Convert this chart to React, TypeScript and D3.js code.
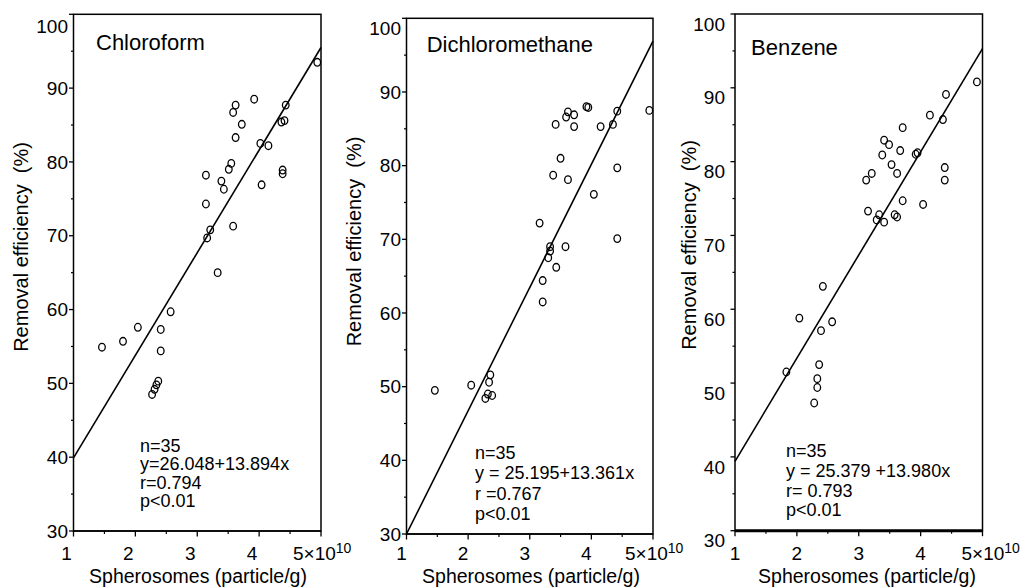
import * as d3 from "d3";

const FONT = '"Liberation Sans", Arial, Helvetica, sans-serif';

// values (x in 10^10 particle/g, y in %)
const panelTitles = ["Chloroform", "Dichloromethane", "Benzene"];

const chloroformX = [4.94, 3.92, 3.62, 3.58, 3.72, 3.62, 4.43, 4.36, 4.41, 4.02, 4.15, 3.55, 3.51, 3.14, 3.39, 3.43, 4.04, 4.38, 4.38, 3.14, 3.21, 3.16, 3.58, 3.33, 1.46, 1.8, 2.04, 2.57, 2.41, 2.41, 2.37, 2.34, 2.31, 2.27];
const chloroformY = [93.5, 88.5, 87.7, 86.7, 85.1, 83.3, 87.7, 85.4, 85.6, 82.5, 82.2, 79.8, 79.0, 78.2, 77.4, 76.3, 76.9, 78.9, 78.4, 74.3, 70.8, 69.7, 71.3, 65.0, 54.9, 55.7, 57.6, 59.7, 57.3, 54.4, 50.3, 49.8, 49.2, 48.5];

const dichloroX = [4.94, 3.92, 3.95, 3.62, 3.59, 3.72, 3.42, 3.72, 4.15, 4.35, 4.42, 3.5, 3.38, 3.62, 4.42, 4.04, 3.16, 4.42, 3.33, 3.33, 3.58, 3.3, 3.43, 3.21, 3.21, 1.46, 2.05, 2.36, 2.34, 2.28, 2.39, 2.32];
const dichloroY = [87.5, 88.0, 87.9, 87.3, 86.6, 86.9, 85.6, 85.3, 85.3, 85.6, 87.4, 81.0, 78.7, 78.1, 79.7, 76.1, 72.2, 70.1, 69.0, 68.4, 69.0, 67.5, 66.2, 64.4, 61.5, 49.5, 50.2, 51.6, 50.6, 48.4, 48.8, 49.0];

const benzeneX = [4.91, 4.41, 4.15, 4.36, 3.71, 3.41, 3.49, 3.67, 3.38, 3.92, 3.95, 3.53, 3.62, 3.21, 3.12, 4.39, 4.39, 3.71, 4.04, 3.15, 3.33, 3.29, 3.41, 3.58, 3.62, 2.42, 2.04, 2.57, 2.39, 1.83, 2.36, 2.33, 2.33, 2.28];
const benzeneY = [90.8, 89.1, 86.3, 85.7, 84.6, 82.9, 82.3, 81.5, 80.9, 81.0, 81.2, 79.6, 78.4, 78.4, 77.5, 79.2, 77.5, 74.7, 74.2, 73.3, 72.8, 72.1, 71.8, 72.8, 72.5, 63.1, 58.8, 58.3, 57.1, 51.5, 52.5, 50.6, 49.4, 47.3];

// fitted line as drawn: y at x=1 and at x=5
const fitLines = [
  [39.9, 95.5],
  [30.0, 96.9],
  [39.4, 95.3],
];

const statLines = [
  ["n=35", "y=26.048+13.894x", "r=0.794", "p<0.01"],
  ["n=35", "y = 25.195+13.361x", "r =0.767", "p<0.01"],
  ["n=35", "y = 25.379 +13.980x", "r= 0.793", "p<0.01"],
];

const yTicks = [30, 40, 50, 60, 70, 80, 90, 100];
const yMinorTicks = [35, 45, 55, 65, 75, 85, 95];
const xTicks = [1, 2, 3, 4];
const xMinorTicks = [1.5, 2.5, 3.5, 4.5];

const seriesX = [chloroformX, dichloroX, benzeneX];
const seriesY = [chloroformY, dichloroY, benzeneY];

const layout = [
  { left: 73.5, right: 321, top: 14.3, bottom: 531, titleX: 96, titleY: 50, yLabX: 28.3, yLabY: 247, xLabX: 198, tickGap: 5.5, tickDy: 0, topDy: 12, xDx: -7, fiveDx: -28, statX: 140, statY: 452, statStep: 18.4, thick: 1.5 },
  { left: 406.5, right: 653, top: 18.3, bottom: 534, titleX: 426.7, titleY: 52.3, yLabX: 361, yLabY: 241.5, xLabX: 531, tickGap: 5.5, tickDy: 0, topDy: 10, xDx: -5, fiveDx: -28, statX: 475, statY: 459, statStep: 20.3, thick: 1.5 },
  { left: 735, right: 982.5, top: 14, bottom: 530.7, titleX: 751, titleY: 55, yLabX: 696, yLabY: 245, xLabX: 867, tickGap: 10, tickDy: 10, topDy: 10, xDx: 0, fiveDx: -21, statX: 786, statY: 457, statStep: 19.8, thick: 3 },
];

function Panel({ i }: { i: number }) {
  const L = layout[i];
  const x = d3.scaleLinear().domain([1, 5]).range([L.left, L.right]);
  const y = d3.scaleLinear().domain([30, 100]).range([L.bottom, L.top]);
  const line = d3.line<number>().x((_, k) => x(k === 0 ? 1 : 5)).y((d) => y(d));
  const xs = seriesX[i];
  const ys = seriesY[i];

  return (
    <g>
      <rect x={L.left} y={L.top} width={L.right - L.left} height={L.bottom - L.top} fill="none" stroke="#000" strokeWidth={1.5} />
      <line x1={L.left} x2={L.right} y1={L.bottom} y2={L.bottom} stroke="#000" strokeWidth={L.thick} />

      {yTicks.map((t) => (
        <g key={"y" + t}>
          <line x1={L.left - 4.5} x2={L.left} y1={y(t)} y2={y(t)} stroke="#000" strokeWidth={1.3} />
          <text x={L.left - L.tickGap} y={y(t) + (t === 100 ? L.topDy : L.tickDy)} dy="0.35em" textAnchor="end" fontSize={19}>
            {t}
          </text>
        </g>
      ))}
      {yMinorTicks.map((t) => (
        <line key={"ym" + t} x1={L.left - 2.5} x2={L.left} y1={y(t)} y2={y(t)} stroke="#000" strokeWidth={1.2} />
      ))}

      {xTicks.concat([5]).map((t) => (
        <line key={"x" + t} x1={x(t)} x2={x(t)} y1={L.bottom} y2={L.bottom + 5.5} stroke="#000" strokeWidth={1.3} />
      ))}
      {xMinorTicks.map((t) => (
        <line key={"xm" + t} x1={x(t)} x2={x(t)} y1={L.bottom} y2={L.bottom + 3} stroke="#000" strokeWidth={1.2} />
      ))}
      {xTicks.map((t) => (
        <text key={"xl" + t} x={x(t) + L.xDx} y={560} textAnchor="middle" fontSize={19}>
          {t}
        </text>
      ))}
      <text x={x(5) + L.fiveDx} y={560} fontSize={19}>
        5×10
        <tspan dy={-7} fontSize={14}>
          10
        </tspan>
      </text>

      <path d={line(fitLines[i]) ?? ""} fill="none" stroke="#000" strokeWidth={1.6} />

      {xs.map((v, k) => (
        <ellipse key={k} cx={x(v)} cy={y(ys[k])} rx={3.3} ry={3.8} fill="none" stroke="#000" strokeWidth={1.3} />
      ))}

      <text x={L.titleX} y={L.titleY} fontSize={22}>
        {panelTitles[i]}
      </text>

      {statLines[i].map((s, k) => (
        <text key={s} x={L.statX} y={L.statY + k * L.statStep} fontSize={18} style={{ whiteSpace: "pre" }}>
          {s}
        </text>
      ))}

      <text
        transform={`translate(${L.yLabX},${L.yLabY}) rotate(-90)`}
        textAnchor="middle"
        fontSize={20}
        style={{ whiteSpace: "pre" }}
      >
        {"Removal efficiency  (%)"}
      </text>
      <text x={L.xLabX} y={583} textAnchor="middle" fontSize={19.5}>
        Spherosomes (particle/g)
      </text>
    </g>
  );
}

export default function App() {
  return (
    <div style={{ position: "absolute", left: 0, top: 0 }}>
      <svg width={1030} height={587} style={{ display: "block", background: "#fff", fontFamily: FONT }}>
        {[0, 1, 2].map((i) => (
          <Panel key={i} i={i} />
        ))}
      </svg>
    </div>
  );
}
